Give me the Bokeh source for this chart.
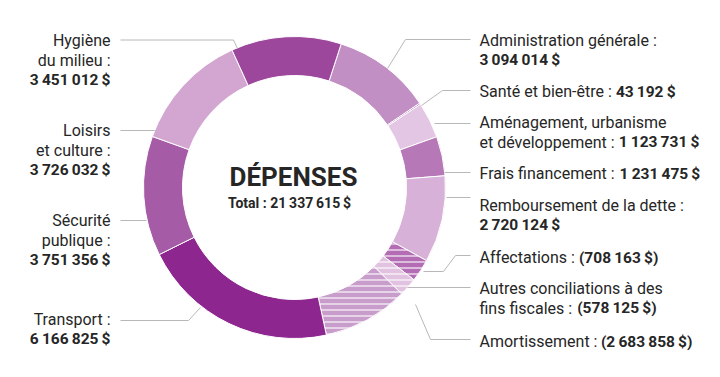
import math
from bokeh.plotting import figure
from bokeh.models import Range1d, ColumnDataSource
from bokeh.core.properties import value
from bokeh.embed import file_html
from bokeh.resources import INLINE

# ---------------- data ----------------
categories = [
    "Administration générale", "Santé et bien-être",
    "Aménagement, urbanisme et développement", "Frais financement",
    "Remboursement de la dette", "Affectations",
    "Autres conciliations à des fins fiscales", "Amortissement",
    "Transport", "Sécurité publique", "Loisirs et culture", "Hygiène du milieu",
]
values = [3094014, 43192, 1123731, 1231475, 2720124, -708163, -578125,
          -2683858, 6166825, 3751356, 3726032, 3451012]
colors = ["#c28fc4", "#a552a5", "#e3c6e3", "#b678b7", "#d7b1d7", "#b46db4",
          "#e2c2e1", "#c99dcb", "#8e268f", "#a65ba6", "#d3a6d2", "#9d479c"]
title_text = "DÉPENSES"

# ---------------- layout ----------------
W, H = 720, 377
CX, CY = 294, 187          # ring centre (screen px)
R_OUT, R_IN = 151, 112
START_DEG = 18             # clockwise from top
FONT = "Roboto"
FS = "16px"
BFS = "15.5px"
TXT = "#262626"
LEAD = "#b8b8b8"
NSP = "\u2009"


def sy(y):
    return H - y


def fmt(v):
    s = f"{abs(v):,}".replace(",", NSP) + NSP + "$"
    return f"({s})" if v < 0 else s


total = sum(values)
absvals = [abs(v) for v in values]
tot_abs = sum(absvals)

starts, ends = [], []
acc = START_DEG
for a in absvals:
    d = a / tot_abs * 360
    starts.append(math.radians(90 - acc))
    ends.append(math.radians(90 - acc - d))
    acc += d

hatch = ["horizontal_line" if v < 0 else "blank" for v in values]

src = ColumnDataSource(dict(cat=categories, val=values, start=starts, end=ends,
                            color=colors, hatch=hatch))

p = figure(width=W, height=H, x_range=Range1d(0, W), y_range=Range1d(0, H),
           output_backend="svg", toolbar_location=None, min_border=0)
p.axis.visible = False
p.grid.visible = False
p.outline_line_color = None
p.background_fill_color = "white"

p.annular_wedge(x=CX, y=sy(CY), inner_radius=R_IN, outer_radius=R_OUT,
                start_angle="start", end_angle="end", direction="clock",
                fill_color="color", line_color="white", line_width=1,
                hatch_pattern="hatch", hatch_color="white", hatch_alpha=0.85,
                hatch_scale=6, hatch_weight=1.3, source=src)

# leader lines (screen px)
leaders = [
    [(120, 39.5), (233, 39.5), (237, 48)],
    [(120, 130), (155, 130)],
    [(120, 220), (146, 220)],
    [(120, 320), (188, 320), (200, 307)],
    [(470, 39), (405, 39), (387, 68)],
    [(470, 90), (442, 90), (421, 105)],
    [(470, 123), (434, 123)],
    [(470, 172), (444, 172)],
    [(470, 197), (446, 197)],
    [(470, 255), (455, 255), (443, 271), (423, 271)],
    [(470, 287), (407, 287)],
    [(470, 339), (430, 339), (415, 304)],
]
p.multi_line(xs=[[pt[0] for pt in l] for l in leaders],
             ys=[[sy(pt[1]) for pt in l] for l in leaders],
             line_color=LEAD, line_width=1)

# approximate Roboto advance widths (em) for placing bold runs after regular
CW = {" ": 0.248, "a": 0.544, "b": 0.561, "c": 0.523, "d": 0.564, "e": 0.530,
      "é": 0.530, "ê": 0.530, "à": 0.544, "f": 0.347, "g": 0.561, "h": 0.551,
      "i": 0.243, "j": 0.239, "k": 0.507, "l": 0.243, "m": 0.876, "n": 0.552,
      "o": 0.570, "p": 0.561, "q": 0.568, "r": 0.338, "s": 0.516, "t": 0.327,
      "u": 0.551, "v": 0.484, "w": 0.751, "x": 0.496, "y": 0.473, "z": 0.496,
      ":": 0.242, "-": 0.276, ",": 0.196, "A": 0.652, "F": 0.553, "S": 0.593,
      "R": 0.616, "M": 0.872}


def width(s, size=16):
    return sum(CW.get(c, 0.55) for c in s) * size


reg = dict(x=[], y=[], t=[], align=[])
bold = dict(x=[], y=[], t=[], align=[])


def line(x, y, regular, strong, align):
    if regular:
        reg["x"].append(x); reg["y"].append(sy(y)); reg["t"].append(regular); reg["align"].append(align)
    if strong:
        off = width(regular) if (regular and align == "left") else 0
        bold["x"].append(x + off); bold["y"].append(sy(y))
        bold["t"].append(strong); bold["align"].append(align)


LS = 19.5
LX, RX = 110, 479
# left side (right-aligned)
left_labels = [
    (40, ["Hygiène", "du milieu :"], values[11]),
    (130, ["Loisirs", "et culture :"], values[10]),
    (220, ["Sécurité", "publique :"], values[9]),
    (319, ["Transport :"], values[8]),
]
for y0, lines_, v in left_labels:
    for i, t in enumerate(lines_):
        line(LX, y0 + i * LS, t, None, "right")
    line(LX, y0 + len(lines_) * LS, None, fmt(v), "right")

# right side (left-aligned); each entry: y, list of (regular, bold-or-None)
right_labels = [
    (40, [("Administration générale :", None), (None, fmt(values[0]))]),
    (91, [("Santé et bien-être : ", fmt(values[1]))]),
    (122, [("Aménagement, urbanisme", None), ("et développement : ", fmt(values[2]))]),
    (173, [("Frais financement : ", fmt(values[3]))]),
    (205, [("Remboursement de la dette :", None), (None, fmt(values[4]))]),
    (257, [("Affectations : ", fmt(values[5]))]),
    (288, [("Autres conciliations à des", None), ("fins fiscales : ", fmt(values[6]))]),
    (341, [("Amortissement : ", fmt(values[7]))]),
]
for y0, parts in right_labels:
    for i, (r, b) in enumerate(parts):
        line(RX, y0 + i * LS, r, b, "left")

p.text(x="x", y="y", text="t", text_align="align", text_baseline="middle",
       text_font=value(FONT), text_font_size=FS, text_color=TXT,
       source=ColumnDataSource(reg))
p.text(x="x", y="y", text="t", text_align="align", text_baseline="middle",
       text_font=value(FONT), text_font_size=BFS, text_font_style="bold",
       text_color=TXT, source=ColumnDataSource(bold))

# centre titles
p.text(x=[CX - 1], y=[sy(176)], text=[title_text], text_align="center",
       text_baseline="middle", text_font=value(FONT), text_font_size="26px",
       text_font_style="bold", text_color=TXT)
p.text(x=[CX - 5], y=[sy(202)], text=["Total : " + fmt(total)], text_align="center",
       text_baseline="middle", text_font=value(FONT), text_font_size="14px",
       text_font_style="bold", text_color=TXT)

open("out.html", "w").write(file_html(p, INLINE))
